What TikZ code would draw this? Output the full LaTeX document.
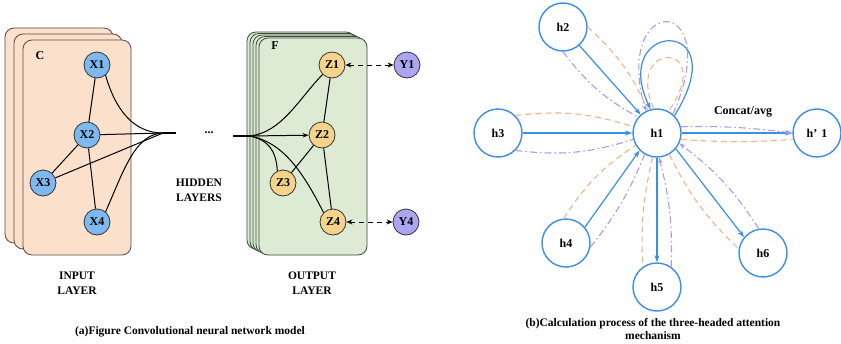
\documentclass[tikz,border=0pt]{standalone}
\usepackage{fontspec}
\setmainfont{Liberation Serif}
\usetikzlibrary{arrows.meta}
\definecolor{peach}{HTML}{FBE0CC}
\definecolor{peachline}{HTML}{5A4A40}
\definecolor{mint}{HTML}{DDEBD5}
\definecolor{mintline}{HTML}{3C4A3C}
\definecolor{xfill}{HTML}{7DB9EE}
\definecolor{zfill}{HTML}{F6D38A}
\definecolor{yfill}{HTML}{ABA5F2}
\definecolor{hblue}{HTML}{3C8DE8}
\definecolor{horange}{HTML}{F2B48A}
\definecolor{hpurple}{HTML}{A99BF0}
\tikzset{
  x=1pt, y=1pt,
  every node/.style={font=\bfseries\fontsize{12}{14}\selectfont},
  layer/.style={rounded corners=9pt, line width=0.8pt},
  inlayer/.style={layer, draw=peachline, fill=peach},
  outlayer/.style={layer, draw=mintline, fill=mint},
  neuron/.style={circle, draw=black!80, line width=0.8pt, minimum size=26pt, inner sep=0pt},
  xn/.style={neuron, fill=xfill},
  zn/.style={neuron, fill=zfill},
  yn/.style={neuron, fill=yfill},
  link/.style={line width=1pt, black},
  tip/.style={-{Stealth[length=6pt,width=4.5pt]}},
  hn/.style={circle, draw=hblue, line width=1.4pt, fill=white, minimum size=48pt, inner sep=0pt},
  attn/.style={hblue, line width=1.2pt, -{Stealth[length=7pt,width=5pt]}},
  headA/.style={horange, line width=1.1pt, dash pattern=on 6pt off 4pt},
  headB/.style={hpurple, line width=1.1pt, dash pattern=on 7pt off 3pt on 1.5pt off 3pt},
  headtip/.style={-{Stealth[length=6pt,width=4.5pt]}},
  twoline/.style={align=center, font=\bfseries\fontsize{11.5}{15}\selectfont},
}
\begin{document}
\begin{tikzpicture}
\useasboundingbox (0,0) rectangle (841,-343);

% ---------- (a) input stack ----------
\draw[inlayer] (5,-28) rectangle (113,-243);
\draw[inlayer] (14,-34) rectangle (122,-249);
\draw[inlayer] (23,-40) rectangle (131,-255);
\node (C) at (40,-56) {C};

\node[xn] (X1) at (97,-65) {X1};
\node[xn] (X2) at (87,-135) {X2};
\node[xn] (X3) at (43,-183) {X3};
\node[xn] (X4) at (97,-222) {X4};
\coordinate (conv) at (163,-133);
\coordinate (convend) at (176,-133);

\draw[link] (X1) -- (X2);
\draw[link] (X2) -- (X3);
\draw[link] (X2) -- (X4);
\draw[link] (X2) -- (conv);
\draw[link] (X3) -- (conv);
\draw[link] (X1.-50) .. controls (116,-112) and (135,-133) .. (conv);
\draw[link] (X4.50) .. controls (124,-170) and (135,-134) .. (conv);
\draw[line width=1.5pt] (conv) -- (convend);

\node (dots) at (209,-133) {...};
\node[twoline] (hid) at (199,-190) {HIDDEN\\LAYERS};

% ---------- (a) output stack ----------
\foreach \k in {4,3,2,1,0} {
  \draw[outlayer] ({259-3*\k},{-38+1.5*\k}) rectangle ({367-3*\k},{-255+1.5*\k});
}
\node (F) at (275,-46) {F};

\node[zn] (Z1) at (332,-65) {Z1};
\node[zn] (Z2) at (322,-135) {Z2};
\node[zn] (Z3) at (283,-183) {Z3};
\node[zn] (Z4) at (333,-222) {Z4};
\node[yn] (Y1) at (407,-65) {Y1};
\node[yn] (Y4) at (406,-222) {Y4};
\coordinate (divstart) at (233,-136);
\coordinate (div) at (250,-136);

\draw[line width=1.5pt] (divstart) -- (div);
\draw[link, tip] (div) -- (Z2);
\draw[link] (div) .. controls (282,-132) and (298,-100) .. (Z1.-135);
\draw[link] (div) .. controls (268,-140) and (276,-150) .. (Z3.115);
\draw[link] (div) .. controls (282,-142) and (302,-170) .. (Z4.135);
\draw[link] (Z1) -- (Z2);
\draw[link] (Z2) -- (Z4);
\draw[link] (Z3) -- (Z2);

\draw[link, dash pattern=on 5pt off 4pt, {Stealth[length=6pt,width=5pt]}-{Stealth[length=6pt,width=5pt]}] (Z1) -- (Y1);
\draw[link, dash pattern=on 5pt off 4pt, {Stealth[length=6pt,width=5pt]}-{Stealth[length=6pt,width=5pt]}] (Z4) -- (Y4);

\node[twoline] (inlab) at (77,-283) {INPUT\\LAYER};
\node[twoline] (outlab) at (312,-283) {OUTPUT\\LAYER};
\node[font=\bfseries\fontsize{11.5}{14}\selectfont] (capa) at (190,-332) {(a)Figure Convolutional neural network model};

% ---------- (b) attention ----------
\node[hn] (h1) at (657,-133) {h1};
\node[hn] (h2) at (563,-27) {h2};
\node[hn] (h3) at (498,-133) {h3};
\node[hn] (h4) at (566,-243) {h4};
\node[hn] (h5) at (657,-287) {h5};
\node[hn] (h6) at (763,-253) {h6};
\node[hn] (hp) at (817,-133) {h’\,\,1};

% self attention loops
\draw[headB, headtip] (h1.50) .. controls (727,8) and (612,8) .. (h1.117);
\draw[hblue, line width=1.2pt, -{Stealth[length=7pt,width=5pt]}] (h1.45) .. controls (738,-15) and (608,-20) .. (h1.105);
\draw[headA] (h1.98) .. controls (624,-40) and (718,-40) .. (h1.62);

% neighbour h2
\draw[attn] (h2) -- (h1);
\draw[headA] (h2.0) to[bend left=12] (h1.112);
\draw[headB] (h2.-90) to[bend right=12] (h1.140);
% neighbour h3
\draw[attn] (h3) -- (h1);
\draw[headA] (h3.45) to[bend left=12] (h1.165);
\draw[headB] (h3.-45) to[bend right=12] (h1.-165);
% neighbour h4
\draw[attn] (h4.40) -- (h1.-135);
\draw[headA] (h4.95) to[bend left=12] (h1.-150);
\draw[headB] (h4.-10) to[bend right=8] (h1.-120);
% neighbour h5
\draw[attn] (h1) -- (h5);
\draw[headA] (h1.-100) to[bend right=8] (h5.125);
\draw[headB, headtip] (h5.55) to[bend right=8] (h1.-85);
% neighbour h6
\draw[attn] (h1.-40) -- (h6.140);
\draw[headA] (h1.-60) to[bend right=10] (h6.170);
\draw[headB, headtip] (h6.100) to[bend right=10] (h1.-25);
% aggregation
\draw[attn] (h1) -- (hp);
\draw[headB, headtip] (h1.15) to[bend left=4] (hp.180);
\draw[headA] (h1.-15) to[bend right=4] (hp.-165);
\node (concat) at (743,-112) {Concat/avg};

\node[align=center, font=\bfseries\fontsize{11.5}{13}\selectfont, inner sep=1pt] (capb) at (653,-329) {(b)Calculation process of the three-headed attention\\mechanism};
\end{tikzpicture}
\end{document}
